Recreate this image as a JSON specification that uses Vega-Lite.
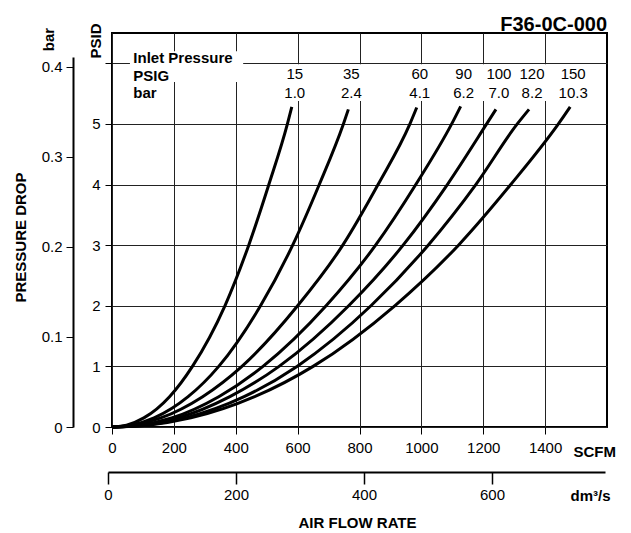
{
  "$schema": "https://vega.github.io/schema/vega-lite/v6.json",
  "width": 495,
  "height": 394,
  "autosize": {"type": "none"},
  "padding": {"left": 112, "top": 33, "right": 24, "bottom": 106},
  "background": "white",
  "config": {
    "font": "Liberation Sans",
    "view": {"stroke": "black", "strokeWidth": 2},
    "axis": {
      "labelFontSize": 15, "labelColor": "black", "labelFont": "Liberation Sans",
      "titleFontSize": 15, "titleColor": "black", "titleFontWeight": "bold", "titleFont": "Liberation Sans",
      "tickColor": "black", "domainColor": "black", "gridColor": "#222", "gridWidth": 1, "labelFlush": false, "labelOverlap": false
    },
    "text": {"font": "Liberation Sans", "fontSize": 15, "color": "black"}
  },
  "datasets": {
    "curves": [
      {"psig": 15, "scfm": 0, "psid": 0}, {"psig": 15, "scfm": 47, "psid": 0.03}, {"psig": 15, "scfm": 103, "psid": 0.15}, {"psig": 15, "scfm": 186, "psid": 0.5}, {"psig": 15, "scfm": 260, "psid": 1}, {"psig": 15, "scfm": 365, "psid": 2}, {"psig": 15, "scfm": 442, "psid": 3}, {"psig": 15, "scfm": 507, "psid": 4}, {"psig": 15, "scfm": 567, "psid": 5}, {"psig": 15, "scfm": 581, "psid": 5.28},
      {"psig": 35, "scfm": 0, "psid": 0}, {"psig": 35, "scfm": 62, "psid": 0.03}, {"psig": 35, "scfm": 136, "psid": 0.15}, {"psig": 35, "scfm": 246, "psid": 0.5}, {"psig": 35, "scfm": 345, "psid": 1}, {"psig": 35, "scfm": 480, "psid": 2}, {"psig": 35, "scfm": 584, "psid": 3}, {"psig": 35, "scfm": 670, "psid": 4}, {"psig": 35, "scfm": 748, "psid": 5}, {"psig": 35, "scfm": 764, "psid": 5.24},
      {"psig": 60, "scfm": 0, "psid": 0}, {"psig": 60, "scfm": 69, "psid": 0.03}, {"psig": 60, "scfm": 158, "psid": 0.15}, {"psig": 60, "scfm": 293, "psid": 0.5}, {"psig": 60, "scfm": 420, "psid": 1}, {"psig": 60, "scfm": 600, "psid": 2}, {"psig": 60, "scfm": 746, "psid": 3}, {"psig": 60, "scfm": 860, "psid": 4}, {"psig": 60, "scfm": 963, "psid": 5}, {"psig": 60, "scfm": 985, "psid": 5.27},
      {"psig": 90, "scfm": 0, "psid": 0}, {"psig": 90, "scfm": 87, "psid": 0.03}, {"psig": 90, "scfm": 193, "psid": 0.15}, {"psig": 90, "scfm": 345, "psid": 0.5}, {"psig": 90, "scfm": 488, "psid": 1}, {"psig": 90, "scfm": 692, "psid": 2}, {"psig": 90, "scfm": 852, "psid": 3}, {"psig": 90, "scfm": 982, "psid": 4}, {"psig": 90, "scfm": 1098, "psid": 5}, {"psig": 90, "scfm": 1127, "psid": 5.29},
      {"psig": 100, "scfm": 0, "psid": 0}, {"psig": 100, "scfm": 97, "psid": 0.03}, {"psig": 100, "scfm": 214, "psid": 0.15}, {"psig": 100, "scfm": 381, "psid": 0.5}, {"psig": 100, "scfm": 540, "psid": 1}, {"psig": 100, "scfm": 765, "psid": 2}, {"psig": 100, "scfm": 941, "psid": 3}, {"psig": 100, "scfm": 1084, "psid": 4}, {"psig": 100, "scfm": 1211, "psid": 5}, {"psig": 100, "scfm": 1241, "psid": 5.24},
      {"psig": 120, "scfm": 0, "psid": 0}, {"psig": 120, "scfm": 107, "psid": 0.03}, {"psig": 120, "scfm": 237, "psid": 0.15}, {"psig": 120, "scfm": 427, "psid": 0.5}, {"psig": 120, "scfm": 598, "psid": 1}, {"psig": 120, "scfm": 837, "psid": 2}, {"psig": 120, "scfm": 1022, "psid": 3}, {"psig": 120, "scfm": 1176, "psid": 4}, {"psig": 120, "scfm": 1310, "psid": 5}, {"psig": 120, "scfm": 1348, "psid": 5.24},
      {"psig": 150, "scfm": 0, "psid": 0}, {"psig": 150, "scfm": 116, "psid": 0.03}, {"psig": 150, "scfm": 255, "psid": 0.15}, {"psig": 150, "scfm": 461, "psid": 0.5}, {"psig": 150, "scfm": 650, "psid": 1}, {"psig": 150, "scfm": 914, "psid": 2}, {"psig": 150, "scfm": 1120, "psid": 3}, {"psig": 150, "scfm": 1289, "psid": 4}, {"psig": 150, "scfm": 1443, "psid": 5}, {"psig": 150, "scfm": 1481, "psid": 5.28}
    ],
    "labels": [
      {"psig": "15", "bar": "1.0", "end": 581},
      {"psig": "35", "bar": "2.4", "end": 764},
      {"psig": "60", "bar": "4.1", "end": 985},
      {"psig": "90", "bar": "6.2", "end": 1127},
      {"psig": "100", "bar": "7.0", "end": 1241},
      {"psig": "120", "bar": "8.2", "end": 1348},
      {"psig": "150", "bar": "10.3", "end": 1481}
    ]
  },
  "layer": [
    {
      "layer": [
        {
          "data": {"name": "curves"},
          "mark": {"type": "line", "color": "black", "strokeWidth": 3, "interpolate": "monotone", "strokeCap": "butt"},
          "encoding": {
            "x": {"field": "scfm", "type": "quantitative", "scale": {"domain": [0, 1600]},
              "axis": {"orient": "bottom", "title": "SCFM", "values": [0, 200, 400, 600, 800, 1000, 1200, 1400], "format": "d", "grid": true, "domain": false, "tickSize": 7, "tickWidth": 1, "labelPadding": 6, "titleX": 461, "titleY": 29, "titleAlign": "left", "titleBaseline": "alphabetic"}},
            "y": {"field": "psid", "type": "quantitative", "scale": {"domain": [0, 6.35]},
              "axis": {"orient": "left", "title": "PSID", "values": [0, 1, 2, 3, 4, 5, 6], "labelExpr": "datum.value == 6 ? '' : format(datum.value, 'd')", "grid": true, "domain": false, "tickSize": 7, "tickWidth": 1, "labelPadding": 5, "titleX": -12, "titleY": 7.5, "titleAlign": "center", "titleBaseline": "alphabetic", "titleAngle": 270}},
            "detail": {"field": "psig", "type": "nominal"}
          }
        },
        {
          "data": {"values": [{}]},
          "mark": {"type": "rect", "fill": "white"},
          "encoding": {"x": {"datum": 4}, "x2": {"datum": 1596}, "y": {"datum": 5.69}, "y2": {"datum": 5.985}}
        },
        {
          "data": {"values": [{}]},
          "mark": {"type": "rect", "fill": "white"},
          "encoding": {"x": {"datum": 58}, "x2": {"datum": 424}, "y": {"datum": 5.69}, "y2": {"datum": 6.2}}
        },
        {
          "data": {"values": [{}]},
          "mark": {"type": "rect", "fill": "white"},
          "encoding": {"x": {"datum": 450}, "x2": {"datum": 1596}, "y": {"datum": 5.38}, "y2": {"datum": 5.69}}
        },
        {
          "data": {"name": "labels"},
          "mark": {"type": "text", "align": "center", "baseline": "alphabetic", "dx": 3},
          "encoding": {"x": {"field": "end", "type": "quantitative"}, "y": {"datum": 5.736}, "text": {"field": "psig"}}
        },
        {
          "data": {"name": "labels"},
          "mark": {"type": "text", "align": "center", "baseline": "alphabetic", "dx": 3},
          "encoding": {"x": {"field": "end", "type": "quantitative"}, "y": {"datum": 5.43}, "text": {"field": "bar"}}
        },
        {
          "data": {"values": [{"t": "Inlet Pressure", "r": 6.01}, {"t": "PSIG", "r": 5.7}, {"t": "bar", "r": 5.43}]},
          "mark": {"type": "text", "align": "left", "baseline": "alphabetic", "fontWeight": "bold"},
          "encoding": {"x": {"datum": 69}, "y": {"field": "r", "type": "quantitative"}, "text": {"field": "t"}}
        },
        {
          "data": {"values": [{"t": "F36-0C-000"}]},
          "mark": {"type": "text", "align": "right", "baseline": "alphabetic", "fontWeight": "bold", "fontSize": 20, "dy": -11},
          "encoding": {"x": {"datum": 1600}, "y": {"datum": 6.35}, "text": {"field": "t"}}
        }
      ]
    },
    {
      "data": {"values": [{"dm": 0, "bar": 0}]},
      "mark": {"type": "point", "opacity": 0},
      "encoding": {
        "x": {"field": "dm", "type": "quantitative", "scale": {"domain": [0, 776.6], "range": [-4, 493]},
          "axis": {"orient": "bottom", "offset": 45, "title": "dm³/s", "values": [0, 200, 400, 600], "format": "d", "grid": false, "domain": true, "domainWidth": 2, "tickSize": 12, "tickWidth": 1.5, "labelPadding": 3, "titleX": 458, "titleY": 28, "titleAlign": "left", "titleBaseline": "alphabetic"}},
        "y": {"field": "bar", "type": "quantitative", "scale": {"domain": [0, 0.411], "range": [394, 24]},
          "axis": {"orient": "left", "offset": 39, "title": "bar", "values": [0, 0.1, 0.2, 0.3, 0.4], "labelExpr": "datum.value == 0 ? '0' : format(datum.value, '.1f')", "grid": false, "domain": true, "domainWidth": 2, "tickSize": 7, "tickWidth": 1, "labelPadding": 4, "titleX": -20, "titleY": 6, "titleAlign": "center", "titleBaseline": "alphabetic", "titleAngle": 270}}
      }
    },
    {
      "data": {"values": [{"a": 0, "b": 0}]},
      "mark": {"type": "point", "opacity": 0},
      "encoding": {
        "x": {"field": "a", "type": "quantitative", "scale": {"domain": [0, 1]},
          "axis": {"orient": "bottom", "title": "AIR FLOW RATE", "labels": false, "ticks": false, "domain": false, "grid": false, "titleX": 245, "titleY": 100, "titleAlign": "center", "titleBaseline": "alphabetic"}},
        "y": {"field": "b", "type": "quantitative", "scale": {"domain": [0, 1]},
          "axis": {"orient": "left", "title": "PRESSURE DROP", "labels": false, "ticks": false, "domain": false, "grid": false, "titleX": -87, "titleY": 204, "titleAlign": "center", "titleBaseline": "alphabetic", "titleAngle": 270}}
      }
    }
  ],
  "resolve": {"scale": {"x": "independent", "y": "independent"}, "axis": {"x": "independent", "y": "independent"}}
}
